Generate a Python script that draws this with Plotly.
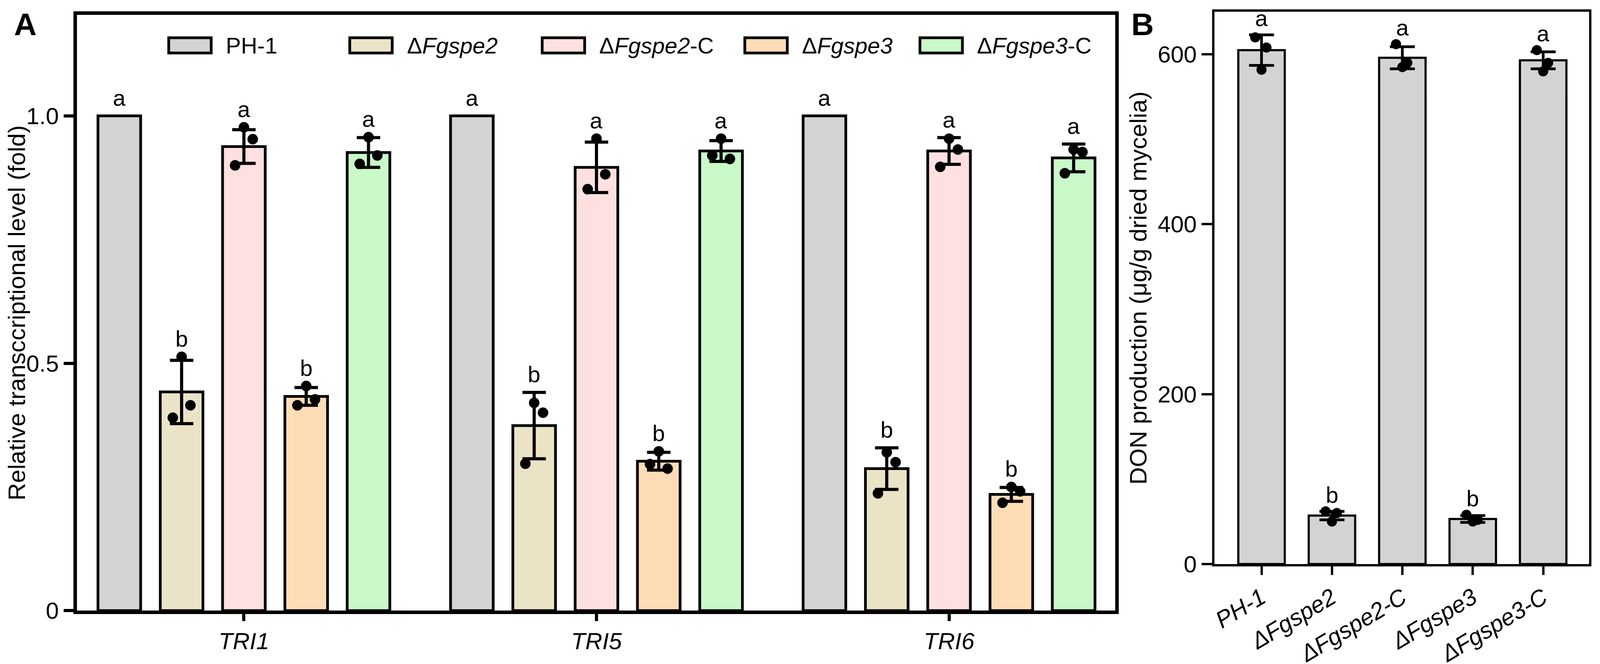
import plotly.graph_objects as go

# ---- data ------------------------------------------------------------
genes = ["TRI1", "TRI5", "TRI6"]
strains = ["PH-1", "ΔFgspe2", "ΔFgspe2-C", "ΔFgspe3", "ΔFgspe3-C"]
strain_labels = ["PH-1", "Δ<i>Fgspe2</i>", "Δ<i>Fgspe2</i>-C", "Δ<i>Fgspe3</i>", "Δ<i>Fgspe3</i>-C"]
strain_ticks = ["<i>PH-1</i>", "<i>ΔFgspe2</i>", "<i>ΔFgspe2-C</i>", "<i>ΔFgspe3</i>", "<i>ΔFgspe3-C</i>"]

# panel A: relative transcript level, mean / sd / replicates per gene
expr_mean = {
    "PH-1":      [1.0, 1.0, 1.0],
    "ΔFgspe2":   [0.442, 0.374, 0.287],
    "ΔFgspe2-C": [0.938, 0.896, 0.929],
    "ΔFgspe3":   [0.433, 0.302, 0.235],
    "ΔFgspe3-C": [0.926, 0.929, 0.915],
}
expr_sd = {
    "PH-1":      [0, 0, 0],
    "ΔFgspe2":   [0.064, 0.067, 0.042],
    "ΔFgspe2-C": [0.034, 0.051, 0.027],
    "ΔFgspe3":   [0.018, 0.018, 0.014],
    "ΔFgspe3-C": [0.030, 0.021, 0.028],
}
expr_reps = {
    "PH-1":      [[], [], []],
    "ΔFgspe2":   [[0.513, 0.415, 0.390], [0.420, 0.400, 0.297], [0.320, 0.300, 0.237]],
    "ΔFgspe2-C": [[0.977, 0.953, 0.900], [0.954, 0.882, 0.852], [0.954, 0.932, 0.897]],
    "ΔFgspe3":   [[0.454, 0.427, 0.415], [0.322, 0.287, 0.296], [0.250, 0.241, 0.218]],
    "ΔFgspe3-C": [[0.957, 0.920, 0.903], [0.954, 0.913, 0.920], [0.932, 0.927, 0.884]],
}
expr_letters = {
    "PH-1": ["a", "a", "a"],
    "ΔFgspe2": ["b", "b", "b"],
    "ΔFgspe2-C": ["a", "a", "a"],
    "ΔFgspe3": ["b", "b", "b"],
    "ΔFgspe3-C": ["a", "a", "a"],
}

# panel B: DON production
don_mean = [605, 57, 596, 53, 593]
don_sd = [18, 5, 13, 4, 10]
don_reps = [[620, 608, 582], [62, 60, 50], [612, 590, 585], [58, 52, 50], [605, 590, 580]]
don_letters = ["a", "b", "a", "b", "a"]

# ---- style -----------------------------------------------------------
colors = ["#d3d3d3", "#ebe3c6", "#fde0df", "#fddcb6", "#c9f9c8"]
FONT = "Liberation Sans, Arial, sans-serif"
W, H = 4562, 1701
slot = 0.1767      # spacing between strains inside a gene group
bar_w = 0.121
jitter_a = [0.0, 0.025, -0.025]
jitter_b = [-0.09, 0.07, 0.0]

fig = go.Figure()

# panel A bars, error bars, dots
for j, s in enumerate(strains):
    xs = [g + (j - 2) * slot for g in range(len(genes))]
    has_err = any(v > 0 for v in expr_sd[s])
    fig.add_trace(go.Bar(
        x=xs, y=expr_mean[s], width=bar_w,
        marker=dict(color=colors[j], line=dict(color="black", width=7)),
        error_y=dict(type="data", array=expr_sd[s], visible=has_err,
                     color="black", thickness=8, width=30),
        xaxis="x", yaxis="y", showlegend=False,
    ))
    px, py = [], []
    for g, reps in enumerate(expr_reps[s]):
        for k, v in enumerate(reps):
            px.append(xs[g] + jitter_a[k])
            py.append(v)
    if px:
        fig.add_trace(go.Scatter(
            x=px, y=py, mode="markers",
            marker=dict(color="black", size=27),
            xaxis="x", yaxis="y", showlegend=False,
        ))
    for g in range(len(genes)):
        top = max([expr_mean[s][g] + expr_sd[s][g]] + expr_reps[s][g])
        fig.add_annotation(
            x=xs[g], y=top, xref="x", yref="y", text=expr_letters[s][g],
            showarrow=False, yanchor="bottom", yshift=12,
            font=dict(family=FONT, size=58, color="black"),
        )

# panel B
xb = list(range(len(strains)))
fig.add_trace(go.Bar(
    x=xb, y=don_mean, width=0.66,
    marker=dict(color="#d3d3d3", line=dict(color="black", width=5.5)),
    error_y=dict(type="data", array=don_sd, color="black", thickness=7, width=32),
    xaxis="x2", yaxis="y2", showlegend=False,
))
bx, by = [], []
for i, reps in enumerate(don_reps):
    for k, v in enumerate(reps):
        bx.append(xb[i] + jitter_b[k])
        by.append(v)
fig.add_trace(go.Scatter(
    x=bx, y=by, mode="markers", marker=dict(color="black", size=26),
    xaxis="x2", yaxis="y2", showlegend=False,
))
for i in xb:
    top = max([don_mean[i] + don_sd[i]] + don_reps[i])
    fig.add_annotation(
        x=i, y=top, xref="x2", yref="y2", text=don_letters[i],
        showarrow=False, yanchor="bottom", yshift=8,
        font=dict(family=FONT, size=58, color="black"),
    )

# custom legend (wide boxes like the original)
legend_x0 = [0.1006, 0.2146, 0.3358, 0.4634, 0.5737]
box_w, box_h, leg_y = 122 / W, 40 / H, 0.935
for j, lab in enumerate(strain_labels):
    fig.add_shape(type="rect", xref="paper", yref="paper",
                  x0=legend_x0[j], x1=legend_x0[j] + box_w,
                  y0=leg_y - box_h / 2, y1=leg_y + box_h / 2,
                  fillcolor=colors[j], line=dict(color="black", width=7))
    fig.add_annotation(x=legend_x0[j] + box_w + 40 / W, y=leg_y,
                       xref="paper", yref="paper", text=lab, showarrow=False,
                       xanchor="left", yanchor="middle",
                       font=dict(family=FONT, size=58, color="black"))

# panel letters
fig.add_annotation(x=12 / W, y=1 - 8 / H, xref="paper", yref="paper", text="<b>A</b>",
                   showarrow=False, xanchor="left", yanchor="top",
                   font=dict(family=FONT, size=80, color="black"))
fig.add_annotation(x=3222 / W, y=1 - 8 / H, xref="paper", yref="paper", text="<b>B</b>",
                   showarrow=False, xanchor="left", yanchor="top",
                   font=dict(family=FONT, size=80, color="black"))

axis_common = dict(showgrid=False, zeroline=False, showline=True, linecolor="black",
                   mirror=True, ticks="outside", tickcolor="black")

fig.update_layout(
    autosize=True,
    margin=dict(l=0, r=0, t=0, b=0),
    paper_bgcolor="white", plot_bgcolor="white",
    barmode="overlay",
    font=dict(family=FONT, color="black"),
    xaxis=dict(domain=[0.0427, 0.6966], range=[-0.474, 2.471], anchor="y",
               tickvals=list(range(len(genes))),
               ticktext=[f"<i>{g}</i>" for g in genes],
               linewidth=9, ticklen=18, tickwidth=8,
               tickfont=dict(size=60), **axis_common),
    yaxis=dict(domain=[0.0653, 0.9818], range=[0, 1.204], anchor="x",
               tickvals=[0, 0.5, 1.0], ticktext=["0", "0.5", "1.0"],
               linewidth=9, ticklen=25, tickwidth=8,
               tickfont=dict(size=60),
               title=dict(text="Relative transccriptional level (fold)",
                          font=dict(size=62), standoff=16),
               **axis_common),
    xaxis2=dict(domain=[0.7591, 0.995], range=[-0.67, 4.65], anchor="y2",
                tickvals=xb, ticktext=strain_ticks, tickangle=-31,
                linewidth=6, ticklen=22, tickwidth=6,
                tickfont=dict(size=60), **axis_common),
    yaxis2=dict(domain=[0.137, 0.9865], range=[0, 650], anchor="x2",
                tickvals=[0, 200, 400, 600],
                linewidth=6, ticklen=27, tickwidth=6,
                tickfont=dict(size=60),
                title=dict(text="DON production (μg/g dried mycelia)",
                           font=dict(size=62), standoff=10),
                **axis_common),
)

fig.write_html("out.html", default_width="100%", default_height="100vh")
